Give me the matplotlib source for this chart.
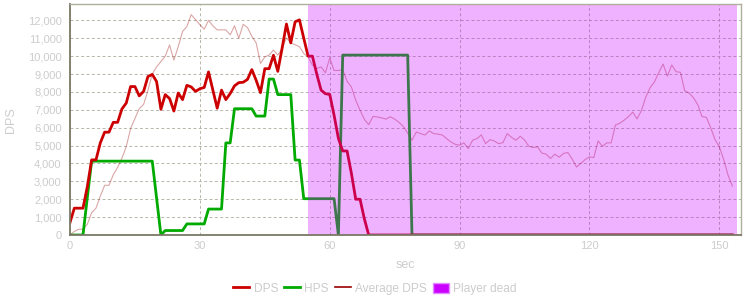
import matplotlib
matplotlib.use("Agg")
import matplotlib.pyplot as plt
from matplotlib.lines import Line2D
from matplotlib.patches import Patch
import numpy as np

plt.rcParams['font.family'] = ['Liberation Sans', 'DejaVu Sans']

seconds = list(range(154))

dps = [700, 1500, 1500, 1500, 2700, 4200, 4200, 5150, 5750, 5750,
       6300, 6300, 7050, 7380, 8300, 8300, 7780, 8030, 8860, 8980,
       8580, 7030, 7850, 7630, 6930, 7940, 7570, 8370, 8280, 8030,
       8180, 8250, 9120, 8100, 7090, 8100, 7570, 7910, 8340, 8520,
       8540, 8700, 9250, 8650, 7960, 9300, 9300, 10050, 9150, 10450,
       11800, 10740, 11920, 12030, 11000, 10000, 10000, 9000, 8100, 7900,
       7860, 6700, 5400, 4700, 4700, 3450, 2000, 2000, 900] + [0] * 85

hps = [0, 0, 0, 0, 2100, 4130, 4130, 4130, 4130, 4130,
       4130, 4130, 4130, 4130, 4130, 4130, 4130, 4130, 4130, 4130,
       2070, 0, 250, 250, 250, 250, 250, 620, 620, 620,
       620, 620, 1450, 1450, 1450, 1450, 5150, 5150, 7060, 7060,
       7060, 7060, 7060, 6650, 6650, 6650, 8720, 8720, 7850, 7850,
       7850, 7850, 4190, 4190, 2030, 2030, 2030, 2030, 2030, 2030,
       2030, 2030, 0] + [10060] * 16 + [0] * 75

avg_dps = [0, 200, 320, 320, 600, 1250, 1500, 2170, 2780, 2780,
           3370, 3780, 4300, 4940, 5960, 6520, 7070, 7300, 8090, 9000,
           9400, 9700, 10000, 10630, 9780, 10530, 11380, 11660, 12320, 12040,
           11760, 11510, 12000, 11700, 11470, 11470, 11470, 11190, 11700, 11000,
           11780, 11600, 11110, 10740, 9590, 9960, 10060, 10340, 10060, 10430,
           11020, 10740, 10640, 10530, 10150, 9960, 9500, 9310, 9400, 9070,
           9900, 9200, 9200, 9250, 8600, 8280, 7540, 6970, 6470, 6170,
           6630, 6600, 6550, 6480, 6610, 6480, 6300, 6070, 5700, 5300,
           5760, 5670, 5590, 5820, 5670, 5640, 5590, 5390, 5200, 5070,
           5020, 5150, 4830, 5300, 5390, 5600, 5110, 5330, 5260, 5110,
           5160, 5670, 5460, 5300, 5520, 5310, 4960, 4890, 4930, 4580,
           4520, 4280, 4520, 4350, 4560, 4610, 4250, 3800, 4000, 4220,
           4370, 4330, 5260, 4960, 5150, 5150, 6150, 6250, 6420, 6620,
           6870, 6490, 6960, 7710, 8240, 8560, 9080, 9560, 8880, 9510,
           9130, 9100, 8060, 7940, 7680, 7300, 6620, 6580, 6000, 5330,
           4930, 4220, 3350, 2740]

dead_start, dead_end = 55, 154

x_ticks = [0, 30, 60, 90, 120, 150]
y_ticks = list(range(0, 13000, 1000))
y_tick_labels = [f"{v:,}" for v in y_ticks]

labels = ["DPS", "HPS", "Average DPS", "Player dead"]

fig = plt.figure(figsize=(7.5, 3), dpi=100)
ax = fig.add_axes([70/750, 1-235/300, (741-70)/750, (235-4.3)/300])

c_dps = '#cc0000'
c_hps = '#00aa00'
c_avg = '#990000'
c_dead = '#cc00ff'
txt = '#cccccc'

ax.plot(seconds, avg_dps, color=c_avg, lw=0.8, alpha=0.35, zorder=3)
ax.plot(seconds, hps, color=c_hps, lw=2.0, zorder=4)
ax.plot(seconds, dps, color=c_dps, lw=2.0, zorder=5)
ax.axvspan(dead_start, dead_end, facecolor=c_dead, alpha=0.3, lw=0, zorder=6)

ax.set_xlim(0, 155)
ax.set_ylim(0, 12900)
ax.set_xticks(x_ticks)
ax.set_yticks(y_ticks)
ax.set_yticklabels(y_tick_labels)
ax.tick_params(axis='both', length=0, labelsize=8, colors=txt)
ax.tick_params(axis='y', pad=6)
ax.tick_params(axis='x', pad=4)
ax.grid(True, color='#b8b6a8', ls=(0, (3, 2.5)), lw=0.7, zorder=1)
ax.set_axisbelow(True)

for s in ['left', 'bottom']:
    ax.spines[s].set_color('#7a7866')
    ax.spines[s].set_linewidth(1.3)
for s in ['top', 'right']:
    ax.spines[s].set_color('#b0ae9e')
    ax.spines[s].set_linewidth(1.0)
for s in ax.spines.values():
    s.set_zorder(7)

ax.set_xlabel('sec', color=txt, fontsize=9, labelpad=6)
ax.set_ylabel('DPS', color=txt, fontsize=9, labelpad=8)

handles = [Line2D([], [], color=c_dps, lw=2),
           Line2D([], [], color=c_hps, lw=2),
           Line2D([], [], color=c_avg, lw=1.2),
           Patch(facecolor=c_dead, edgecolor='#e28cff', lw=1)]
leg = fig.legend(handles, labels, loc='center', bbox_to_anchor=(0.5, 0.037),
                 ncol=4, frameon=False, fontsize=8.6, handlelength=1.35,
                 handletextpad=0.35, columnspacing=0.5, handleheight=1.0)
for t in leg.get_texts():
    t.set_color(txt)

fig.savefig('out.png', dpi=100)
